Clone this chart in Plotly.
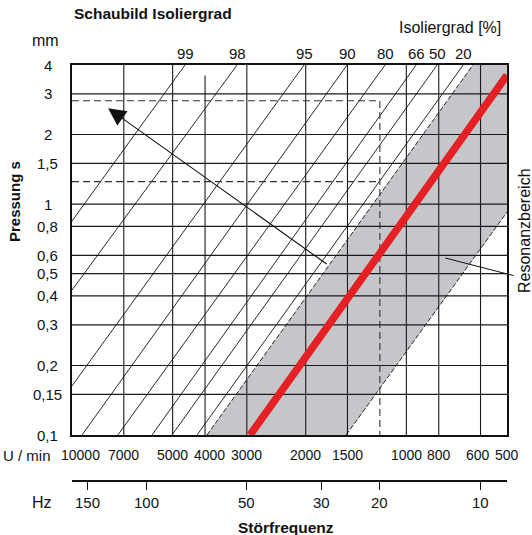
import math
import plotly.graph_objects as go

# ---------------- data ----------------
x_range_rpm = [10000, 500]          # U/min, decreasing to the right
y_range_mm = [0.1, 4]               # Pressung s [mm]

rpm_ticks = [10000, 7000, 5000, 4000, 3000, 2000, 1500, 1000, 800, 600, 500]
rpm_labels = ["10000", "7000", "5000", "4000", "3000", "2000", "1500", "1000", "800", "600", "500"]
hz_ticks = [150, 100, 50, 30, 20, 10]
hz_labels = ["150", "100", "50", "30", "20", "10"]
s_ticks = [4, 3, 2, 1.5, 1, 0.8, 0.6, 0.5, 0.4, 0.3, 0.2, 0.15, 0.1]
s_labels = ["4", "3", "2", "1,5", "1", "0,8", "0,6", "0,5", "0,4", "0,3", "0,2", "0,15", "0,1"]

# vertical grid lines (U/min) and their top end (mm)
vgrid_rpm = [7000, 5000, 4000, 3000, 2000, 1500, 1000, 800, 600]
vgrid_top = [4, 4, 3.6, 4, 4, 4, 4, 4, 4]
hgrid_s = [3, 2, 1.5, 1, 0.8, 0.6, 0.5, 0.4, 0.3, 0.2, 0.15]

# isolation degree lines: upper end (n1, s1), lower end (n2, s2)
iso_labels = ["99", "98", "95", "90", "80", "66", "50", "20"]
iso_n1 = [4592, 3209, 2023, 1504, 1158, 935, 809, 676]
iso_s1 = [4, 4, 4, 4, 4, 4, 4, 4]
iso_n2 = [10000, 10000, 10000, 9333, 7290, 5764, 5023, 4227]
iso_s2 = [0.844, 0.424, 0.163, 0.1, 0.1, 0.1, 0.1, 0.1]

# resonance area (grey) polygon
res_n = [3947, 632, 500, 500, 1514]
res_s = [0.1, 4, 4, 0.923, 0.1]
# resonance line (red)
red_n = [2934, 500]
red_s = [0.1, 3.61]

# example reading (dashed)
ex_n = 1200
ex_s_high = 2.8
ex_s_low = 1.25

# arrow
arrow_tip = (7800, 2.6)
arrow_tail = (1714, 0.544)
# Resonanzbereich leader
leader_in = (765, 0.584)
leader_out = (473, 0.488)

FONT = "Liberation Sans, Arial, Helvetica, sans-serif"
L = math.log10

# small horizontal nudges of some rpm labels (pixels), as in the print
rpm_label_nudge = {10000: 8, 4000: 4, 600: -3}

fig = go.Figure()

# grey resonance area
fig.add_trace(go.Scatter(x=res_n + [res_n[0]], y=res_s + [res_s[0]], mode="lines",
                         fill="toself", fillcolor="#c5c6c9", line=dict(width=0),
                         hoverinfo="skip", showlegend=False))

# grid
gx, gy = [], []
for v, top in zip(vgrid_rpm, vgrid_top):
    gx += [v, v, None]
    gy += [y_range_mm[0], top, None]
fig.add_trace(go.Scatter(x=gx, y=gy, mode="lines", line=dict(color="#1a1a1a", width=1.1),
                         hoverinfo="skip", showlegend=False))
hx, hy = [], []
for s in hgrid_s:
    hx += [x_range_rpm[0], x_range_rpm[1], None]
    hy += [s, s, None]
fig.add_trace(go.Scatter(x=hx, y=hy, mode="lines", line=dict(color="#1a1a1a", width=1.2),
                         hoverinfo="skip", showlegend=False))

# isolation lines
ix, iy = [], []
for n1, s1, n2, s2 in zip(iso_n1, iso_s1, iso_n2, iso_s2):
    ix += [n1, n2, None]
    iy += [s1, s2, None]
fig.add_trace(go.Scatter(x=ix, y=iy, mode="lines", line=dict(color="#111111", width=0.9),
                         hoverinfo="skip", showlegend=False))

# resonance boundaries (dashed)
fig.add_trace(go.Scatter(x=[res_n[0], res_n[1], None, res_n[4], res_n[3]],
                         y=[res_s[0], res_s[1], None, res_s[4], res_s[3]],
                         mode="lines", line=dict(color="#111111", width=0.9, dash="5px,2px"),
                         hoverinfo="skip", showlegend=False))

# example dashed lines
fig.add_trace(go.Scatter(x=[x_range_rpm[0], ex_n, ex_n, None, x_range_rpm[0], ex_n],
                         y=[ex_s_high, ex_s_high, y_range_mm[0], None, ex_s_low, ex_s_low],
                         mode="lines", line=dict(color="#333333", width=1.1, dash="7px,4px"),
                         hoverinfo="skip", showlegend=False))

# red resonance line
fig.add_trace(go.Scatter(x=red_n, y=red_s, mode="lines", line=dict(color="#e41f26", width=7.5),
                         hoverinfo="skip", showlegend=False))

# dummy trace for Hz axis
fig.add_trace(go.Scatter(x=[hz_ticks[0]], y=[1], xaxis="x2", yaxis="y", mode="markers",
                         marker=dict(opacity=0), hoverinfo="skip", showlegend=False))

ann = []
# y tick labels
for v, t in zip(s_ticks, s_labels):
    ann.append(dict(text=t, xref="paper", x=-0.0552, yref="y", y=L(v), showarrow=False,
                    xanchor="center", yanchor="middle", font=dict(size=15)))
# rpm tick labels
for v, t in zip(rpm_ticks, rpm_labels):
    ann.append(dict(text=t, xref="x", x=L(v), yref="paper", y=0.0625, showarrow=False,
                    xanchor="center", yanchor="middle", font=dict(size=14),
                    xshift=rpm_label_nudge.get(v, 0)))
# Hz tick labels
for v, t in zip(hz_ticks, hz_labels):
    ann.append(dict(text=t, xref="x2", x=L(v), yref="paper", y=-0.0505, showarrow=False,
                    xanchor="center", yanchor="middle", font=dict(size=15)))
# isolation labels
for n, t in zip(iso_n1, iso_labels):
    ann.append(dict(text=t, xref="x", x=L(n), yref="paper", y=1.0288, showarrow=False,
                    xanchor="center", yanchor="middle", font=dict(size=15)))

ann += [
    dict(text="<b>Schaubild Isoliergrad</b>", xref="paper", x=0.0, yref="paper", y=1.1226,
         xanchor="left", yanchor="middle", showarrow=False, font=dict(size=15.5)),
    dict(text="mm", xref="paper", x=-0.0598, yref="paper", y=1.060,
         xanchor="center", yanchor="middle", showarrow=False, font=dict(size=16)),
    dict(text="Isoliergrad [%]", xref="paper", x=0.991, yref="paper", y=1.0913,
         xanchor="right", yanchor="middle", showarrow=False, font=dict(size=16)),
    dict(text="<b>Pressung s</b>", xref="paper", x=-0.131, yref="paper", y=0.6707,
         textangle=-90, xanchor="center", yanchor="middle", showarrow=False, font=dict(size=15)),
    dict(text="U / min", xref="paper", x=-0.1035, yref="paper", y=0.0625,
         xanchor="center", yanchor="middle", showarrow=False, font=dict(size=15)),
    dict(text="Hz", xref="paper", x=-0.0690, yref="paper", y=-0.0505,
         xanchor="center", yanchor="middle", showarrow=False, font=dict(size=16)),
    dict(text="<b>Störfrequenz</b>", xref="paper", x=0.4931, yref="paper", y=-0.1106,
         xanchor="center", yanchor="middle", showarrow=False, font=dict(size=15.5)),
    dict(text="Resonanzbereich", xref="paper", x=1.0414, yref="paper", y=0.601,
         textangle=-90, xanchor="center", yanchor="middle", showarrow=False, font=dict(size=16)),
    # arrow
    dict(text="", xref="x", yref="y", x=L(arrow_tip[0]), y=L(arrow_tip[1]),
         axref="x", ayref="y", ax=L(arrow_tail[0]), ay=L(arrow_tail[1]),
         showarrow=True, arrowhead=2, arrowsize=3.2, arrowwidth=1.1, arrowcolor="#111111",
         standoff=0, startstandoff=0),
    # leader line
    dict(text="", xref="x", yref="y", x=L(leader_in[0]), y=L(leader_in[1]),
         axref="x", ayref="y", ax=L(leader_out[0]), ay=L(leader_out[1]),
         showarrow=True, arrowhead=0, arrowwidth=1.0, arrowcolor="#111111",
         standoff=0, startstandoff=0),
]

fig.update_layout(
    width=532, height=535,
    margin=dict(l=72, r=25, t=65, b=54),
    paper_bgcolor="white", plot_bgcolor="white",
    font=dict(family=FONT, color="#111111"),
    showlegend=False,
    xaxis=dict(type="log", range=[L(x_range_rpm[0]), L(x_range_rpm[1])], showgrid=False,
               zeroline=False, showticklabels=False, ticks="", showline=True, mirror=True,
               linecolor="#111111", linewidth=1.6, anchor="y"),
    xaxis2=dict(type="log", range=[L(x_range_rpm[0] / 60), L(x_range_rpm[1] / 60)],
                overlaying="x", anchor="free", position=0, side="bottom",
                showgrid=False, zeroline=False, showticklabels=False,
                tickvals=hz_ticks, ticks="outside", ticklen=8, tickwidth=1.1,
                tickcolor="#111111", showline=True, linecolor="#111111", linewidth=1.6),
    yaxis=dict(type="log", range=[L(y_range_mm[0]), L(y_range_mm[1])], domain=[46 / 416, 1],
               showgrid=False, zeroline=False, showticklabels=False, ticks="",
               showline=True, mirror=True, linecolor="#111111", linewidth=1.6),
    annotations=ann,
)

fig.write_html("out.html", config={"displayModeBar": False},
               post_script="document.body.style.margin='0px';document.body.style.overflow='hidden';")
